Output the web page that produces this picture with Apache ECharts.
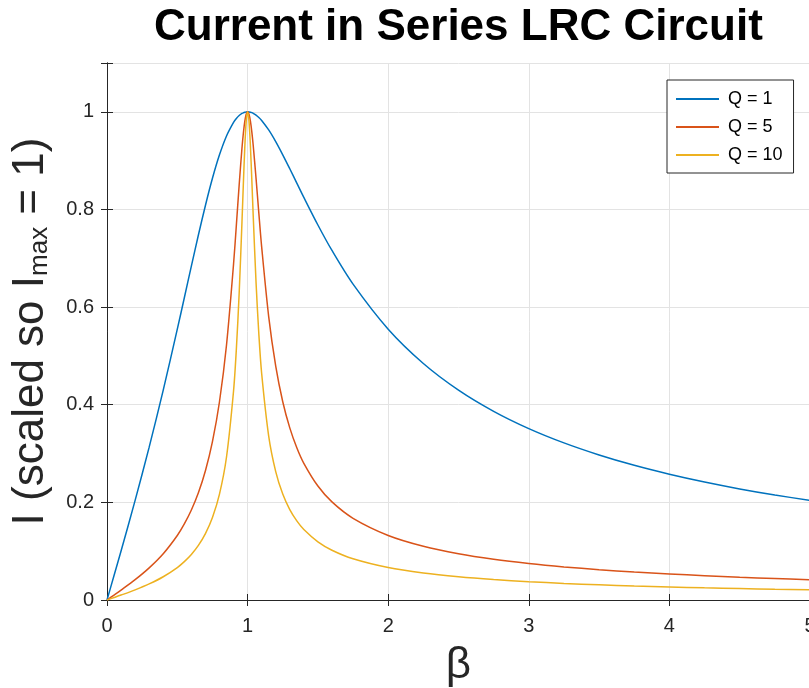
<!DOCTYPE html>
<html>
<head>
<meta charset="utf-8">
<script src="https://cdn.jsdelivr.net/npm/echarts@6/dist/echarts.min.js"></script>
<style>
html,body{margin:0;padding:0;background:#fff;}
#chart{width:809px;height:688px;}
</style>
</head>
<body>
<div id="chart"></div>
<script>
// β values (x) and scaled current for each Q
const betas = [0,0.05,0.1,0.2,0.3,0.4,0.5,0.55,0.6,0.65,0.7,0.75,0.8,0.85,0.9,0.92,0.94,0.96,0.97,0.98,0.99,1,1.01,1.02,1.03,1.04,1.06,1.08,1.1,1.15,1.2,1.25,1.3,1.35,1.4,1.5,1.6,1.75,2,2.25,2.5,2.75,3,3.25,3.5,3.75,4,4.25,4.5,4.75,5];
const q1 = [0,0.0501,0.1005,0.2040,0.3131,0.4299,0.5547,0.6192,0.6839,0.7476,0.8082,0.8638,0.9119,0.9506,0.9784,0.9863,0.9924,0.9967,0.9981,0.9992,0.9998,1,0.9998,0.9992,0.9983,0.9969,0.9933,0.9884,0.9823,0.9629,0.9389,0.9119,0.8833,0.8540,0.8247,0.7682,0.7160,0.6470,0.5547,0.4845,0.4299,0.3865,0.3511,0.3218,0.2971,0.2759,0.2577,0.2417,0.2276,0.2151,0.2040];
const q5 = [0,0.0100,0.0202,0.0416,0.0658,0.0948,0.1322,0.1558,0.1843,0.2196,0.2647,0.3243,0.4061,0.5224,0.6877,0.7677,0.8502,0.9258,0.9566,0.9802,0.9950,1,0.9951,0.9810,0.9590,0.9309,0.8639,0.7922,0.7234,0.5806,0.4789,0.4061,0.3526,0.3119,0.2800,0.2334,0.2009,0.1673,0.1322,0.1101,0.0948,0.0835,0.0748,0.0678,0.0621,0.0573,0.0533,0.0498,0.0467,0.0440,0.0416];
const q10 = [0,0.0050,0.0101,0.0208,0.0329,0.0476,0.0665,0.0786,0.0933,0.1118,0.1360,0.1690,0.2169,0.2929,0.4281,0.5138,0.6283,0.7745,0.8540,0.9272,0.9804,1,0.9808,0.9297,0.8608,0.7867,0.6510,0.5444,0.4640,0.3359,0.2631,0.2169,0.1851,0.1620,0.1443,0.1191,0.1020,0.0845,0.0665,0.0553,0.0476,0.0419,0.0375,0.0340,0.0311,0.0287,0.0267,0.0249,0.0234,0.0220,0.0208];
const seriesNames = ['Q = 1','Q = 5','Q = 10'];
const seriesValues = [q1, q5, q10];
const colors = ['#0072BD','#D95319','#EDB120'];
const xTicks = [0,1,2,3,4,5];
const yTicks = [0,0.2,0.4,0.6,0.8,1];
const titleText = 'Current in Series LRC Circuit';
const xLabel = 'β';

const FONT = 'Liberation Sans';
const AX = '#262626';
const GRID = '#e3e3e3';

const chart = echarts.init(document.getElementById('chart'), null, {renderer:'canvas'});

const common = {
  min: 0,
  axisLine: {show: true, lineStyle: {color: AX, width: 1}},
  axisTick: {show: true, inside: true, length: 6, lineStyle: {color: AX}},
  splitLine: {show: false}
};

const option = {
  backgroundColor: '#fff',
  animation: false,
  color: colors,
  title: {
    text: titleText,
    left: 149,
    top: 1,
    textStyle: {fontFamily: FONT, fontWeight: 'bold', fontSize: 44, color: '#000'}
  },
  legend: {
    orient: 'vertical',
    left: 667,
    top: 80,
    padding: [10, 11, 9, 9],
    itemGap: 10,
    itemWidth: 43,
    itemHeight: 2,
    icon: 'rect',
    backgroundColor: '#fff',
    borderColor: AX,
    borderWidth: 1,
    borderRadius: 0,
    textStyle: {fontFamily: FONT, fontSize: 18, color: '#000', padding: [0,0,0,4]},
    data: seriesNames
  },
  grid: {left: 107, top: 63, width: 703, height: 537, containLabel: false, outerBoundsMode: 'none'},
  xAxis: [
    Object.assign({}, common, {
      type: 'value', max: 5, interval: 1, position: 'bottom',
      splitLine: {show: true, lineStyle: {color: GRID, width: 1}},
      axisLabel: {fontFamily: FONT, fontSize: 20, color: AX, margin: 16},
      name: xLabel,
      nameLocation: 'middle',
      nameGap: 44,
      nameTextStyle: {fontFamily: FONT, fontSize: 44, color: AX}
    }),
    Object.assign({}, common, {
      type: 'value', max: 5, interval: 1, position: 'top',
      axisLabel: {show: false}
    })
  ],
  yAxis: [
    Object.assign({}, common, {
      type: 'value', max: 1.1, interval: 0.2, position: 'left',
      splitLine: {show: true, lineStyle: {color: GRID, width: 1}},
      axisLabel: {fontFamily: FONT, fontSize: 20, color: AX, margin: 13,
        formatter: v => (yTicks.some(t => Math.abs(t - v) < 1e-9) ? String(Math.round(v*10)/10) : '')},
      name: '{a|I (scaled so I}{b|max}{a| = 1)}',
      nameLocation: 'middle',
      nameRotate: 90,
      nameGap: 54,
      nameTextStyle: {
        fontFamily: FONT, color: AX,
        rich: {
          a: {fontFamily: FONT, fontSize: 44, color: AX, lineHeight: 50, verticalAlign: 'bottom'},
          b: {fontFamily: FONT, fontSize: 26, color: AX, lineHeight: 22, verticalAlign: 'bottom'}
        }
      }
    }),
    Object.assign({}, common, {
      type: 'value', max: 1.1, interval: 0.2, position: 'right',
      axisLabel: {show: false}
    })
  ],
  series: seriesNames.map((name, i) => ({
    name: name,
    type: 'line',
    xAxisIndex: 0,
    yAxisIndex: 0,
    showSymbol: false,
    symbol: 'none',
    smooth: 0.3,
    lineStyle: {width: 1.5, color: colors[i]},
    itemStyle: {color: colors[i]},
    data: betas.map((b, k) => [b, seriesValues[i][k]])
  }))
};
chart.setOption(option);
</script>
</body>
</html>
